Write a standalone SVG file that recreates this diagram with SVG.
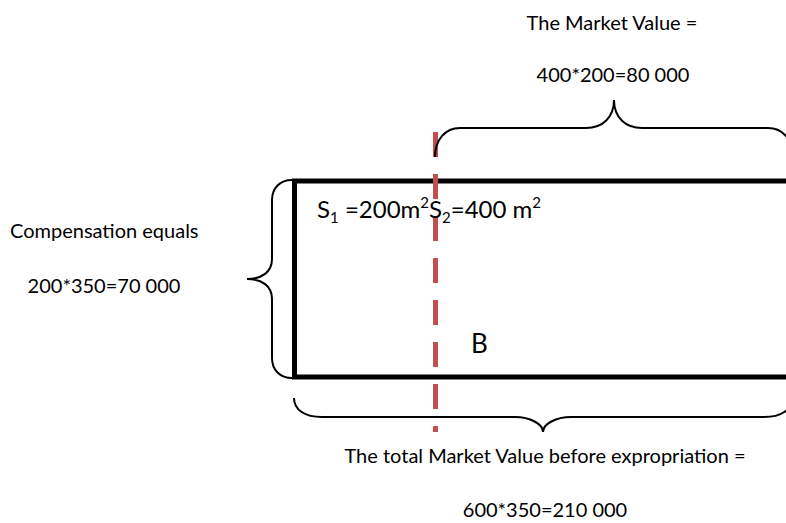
<svg xmlns="http://www.w3.org/2000/svg" width="786" height="523" viewBox="0 0 786 523">
<style>
text{font-family:Lato,"Liberation Sans",sans-serif;fill:#000}
.t{font-size:20px}
.big{font-size:24px}
.b{font-size:26px}
.sm{font-size:15px}
.brace{fill:none;stroke:#000;stroke-width:2}
.edge{fill:none;stroke:#000;stroke-width:5;stroke-linecap:square}
.cut{fill:none;stroke:#C0504D;stroke-width:5;stroke-dasharray:25 17}
</style>
<rect width="786" height="523" fill="#fff"/>
<g id="plot">
<path class="edge" d="M790,181 L294.5,181 L294.5,377 L790,377"/>
</g>
<g id="connectors">
<path class="cut" d="M435.5,132 L435.5,432"/>
<path class="brace" d="M435,157 C435,140 445,128 460,128 L586,128 C602,128 614,118 614,100 C614,118 626,128 642,128 L768,128 C783,128 793,140 793,157"/>
<path class="brace" d="M292,180 C280,180 272,188 272,200 L272,259 C272,272 262,279 247,279 C262,279 272,286 272,299 L272,358 C272,370 280,378 292,378"/>
<path class="brace" d="M294,398 C294,410 305,417 322,417 L515,417 C530,417 543,424 543,432 C543,424 556,417 571,417 L764,417 C781,417 792,410 792,398"/>
</g>
<g id="market-value">
<text class="t" x="612" y="30" text-anchor="middle">The Market Value =</text>
<text class="t" x="613" y="82" text-anchor="middle">400*200=80 000</text>
</g>
<g id="compensation">
<text class="t" x="10" y="238">Compensation equals</text>
<text class="t" x="104" y="293" text-anchor="middle">200*350=70 000</text>
</g>
<g id="areas">
<text class="big" x="317" y="218">S<tspan class="sm" dy="5">1</tspan><tspan dy="-5"> =200m</tspan><tspan class="sm" dy="-10">2</tspan><tspan dy="10">S</tspan><tspan class="sm" dy="5">2</tspan><tspan dy="-5">=400 m</tspan><tspan class="sm" dy="-10">2</tspan></text>
</g>
<g id="label-b">
<text class="b" x="471" y="353">B</text>
</g>
<g id="total">
<text class="t" x="545" y="463" text-anchor="middle">The total Market Value before expropriation =</text>
<text class="t" x="545" y="517" text-anchor="middle">600*350=210 000</text>
</g>
</svg>
